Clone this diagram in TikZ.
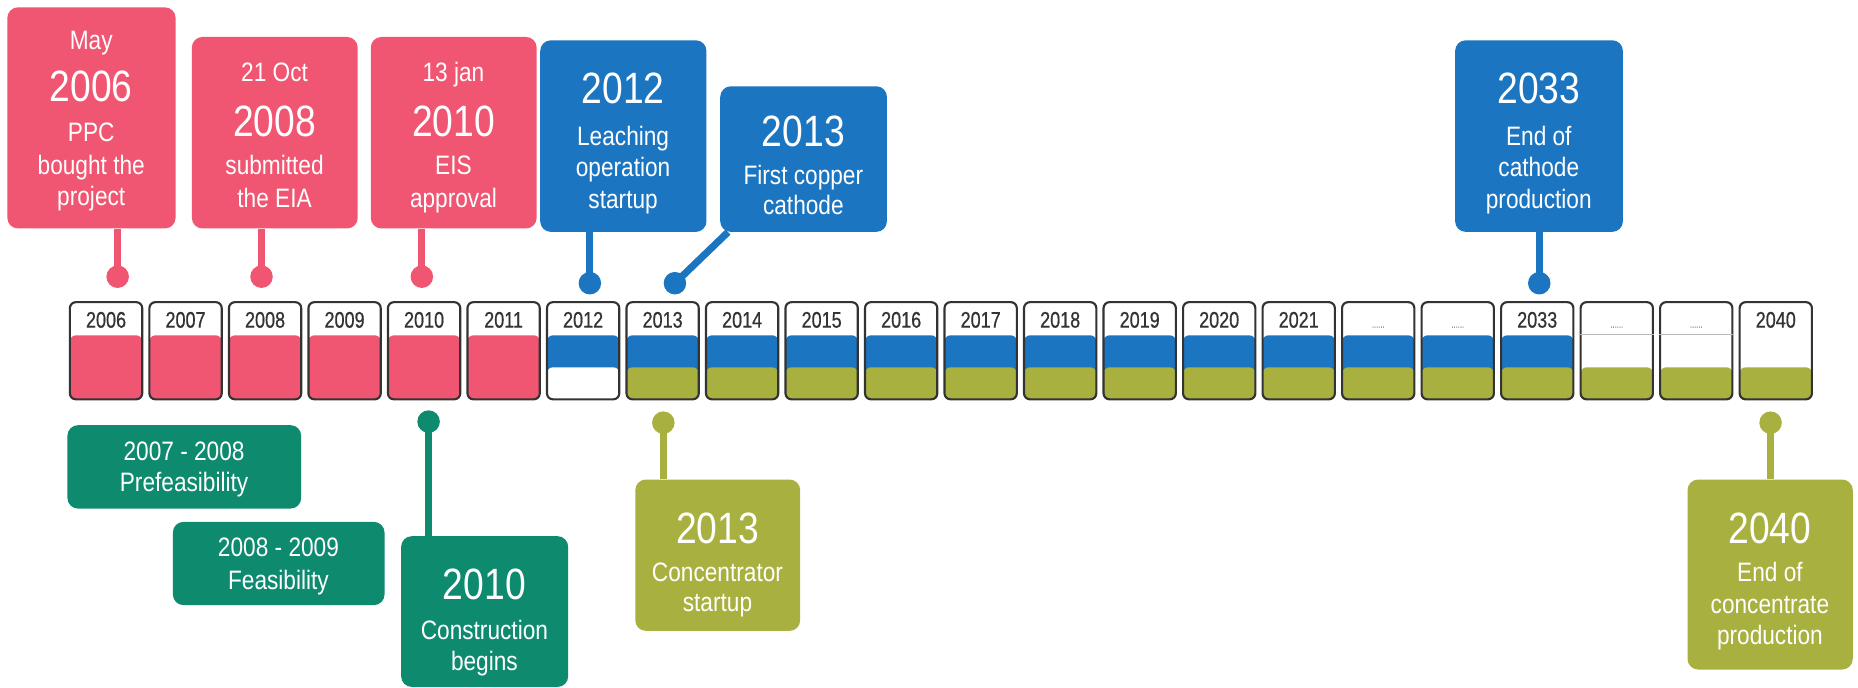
\documentclass[tikz,border=0pt]{standalone}
\usepackage{fontspec}
\setmainfont{Liberation Sans}
\newfontfamily\nar[FakeStretch=0.85]{Liberation Sans}
\newfontfamily\yrf[FakeStretch=0.8,FakeBold=0.6]{Liberation Sans}
\usetikzlibrary{calc}
\definecolor{cpink}{HTML}{F05572}
\definecolor{cblue}{HTML}{1C75C1}
\definecolor{cteal}{HTML}{0E8A6F}
\definecolor{colive}{HTML}{A8B040}
\definecolor{cframe}{HTML}{333333}
\tikzset{
  evbox/.style={rounded corners=9pt, inner sep=0pt, fill=#1, anchor=north west},
  dot/.style={circle, fill=#1, minimum size=19pt, inner sep=0pt},
  stem/.style={draw=#1, line width=6pt},
  big/.style={font=\nar\fontsize{37}{37}\selectfont, text=white, anchor=base, inner sep=0pt},
  sml/.style={font=\nar\fontsize{22.5}{27}\selectfont, text=white, anchor=base, inner sep=0pt},
  yearbox/.style={draw=cframe, line width=1.8pt, rounded corners=5pt, minimum width=61pt, minimum height=82pt, inner sep=0pt},
  yeartext/.style={font=\yrf\fontsize{19}{19}\selectfont, text=black!80, anchor=base, inner sep=0pt},
}
\newcommand\dd{\textcolor{gray}{\fontsize{8}{8}\selectfont......}}
\begin{document}
\begin{tikzpicture}[x=1pt,y=-1pt]
\fill[white] (0,0) rectangle (1568,580);
\useasboundingbox (0,0) rectangle (1568,580);

% ---------- year boxes ----------
\foreach \i/\lab/\mc/\bc in {0/2006/cpink/cpink,1/2007/cpink/cpink,2/2008/cpink/cpink,3/2009/cpink/cpink,4/2010/cpink/cpink,5/2011/cpink/cpink,6/2012/cblue/white,7/2013/cblue/colive,8/2014/cblue/colive,9/2015/cblue/colive,10/2016/cblue/colive,11/2017/cblue/colive,12/2018/cblue/colive,13/2019/cblue/colive,14/2020/cblue/colive,15/2021/cblue/colive,16/\dd/cblue/colive,17/\dd/cblue/colive,18/2033/cblue/colive,19/\dd/white/colive,20/\dd/white/colive,21/2040/white/colive}{
  \node[yearbox, path picture={
      \fill[\mc] ([yshift=-28pt]path picture bounding box.north west) rectangle (path picture bounding box.south east);
      \fill[\bc] ([yshift=27pt]path picture bounding box.south west) rectangle (path picture bounding box.south east);
    }] (y\i) at ({89.5+67.1*\i},296) {};
  \node[yeartext] (l\i) at ({89.5+67.1*\i},276.5) {\lab};
}
\foreach \i in {19,20}{
  \draw[gray!55, line width=0.6pt] ([yshift=-28pt]y\i.north west) -- ([yshift=-28pt]y\i.north east);
}

% ---------- top event boxes ----------
\node[evbox=cpink, minimum width=142pt, minimum height=186.6pt] (b1) at (6,6) {};
\node[evbox=cpink, minimum width=140pt, minimum height=161.6pt] (b2) at (161.7,31) {};
\node[evbox=cpink, minimum width=140pt, minimum height=161.6pt] (b3) at (312.7,31) {};
\node[evbox=cblue, minimum width=140.3pt, minimum height=161.7pt] (b4) at (455.7,33.8) {};
\node[evbox=cblue, minimum width=140.7pt, minimum height=122.9pt] (b5) at (607.6,72.6) {};
\node[evbox=cblue, minimum width=141.6pt, minimum height=161.7pt] (b6) at (1227.8,33.8) {};

% ---------- bottom event boxes ----------
\node[evbox=cteal, minimum width=197.3pt, minimum height=70.4pt] (t1) at (56.7,358.6) {};
\node[evbox=cteal, minimum width=178.6pt, minimum height=70.3pt] (t2) at (145.7,440.2) {};
\node[evbox=cteal, minimum width=141pt, minimum height=127.2pt] (t3) at (338.3,452.3) {};
\node[evbox=colive, minimum width=139.2pt, minimum height=127.7pt] (o1) at (535.9,404.5) {};
\node[evbox=colive, minimum width=139.5pt, minimum height=160.3pt] (o2) at (1423.9,404.5) {};

% ---------- dots ----------
\node[dot=cpink] (d1) at (99.3,233.5) {};
\node[dot=cpink] (d2) at (220.7,233.5) {};
\node[dot=cpink] (d3) at (356,233.5) {};
\node[dot=cblue] (d4) at (497.8,239) {};
\node[dot=cblue] (d5) at (569.6,239) {};
\node[dot=cblue] (d6) at (1299,239) {};
\node[dot=cteal] (d7) at (361.7,355.8) {};
\node[dot=colive] (d8) at (559.8,356.7) {};
\node[dot=colive] (d9) at (1494.2,356.7) {};

% ---------- stems ----------
\draw[stem=cpink] (d1.center) -- (d1.center |- b1.south);
\draw[stem=cpink] (d2.center) -- (d2.center |- b2.south);
\draw[stem=cpink] (d3.center) -- (d3.center |- b3.south);
\draw[stem=cblue] (d4.center) -- (d4.center |- b4.south);
\draw[stem=cblue] (d5.center) -- (b5);
\draw[stem=cblue] (d6.center) -- (d6.center |- b6.south);
\draw[stem=cteal] (d7.center) -- (d7.center |- t3.north);
\draw[stem=colive] (d8.center) -- (d8.center |- o1.north);
\draw[stem=colive] (d9.center) -- (d9.center |- o2.north);

% ---------- texts ----------
\node[sml] (b1a) at (77,41.5) {May};
\node[big] (b1b) at (77,85.7) {2006};
\node[sml] (b1c) at (77,119.5) {PPC};
\node[sml] (b1d) at (77,147.6) {bought the};
\node[sml] (b1e) at (77,173.5) {project};

\node[sml] (b2a) at (231.7,68.9) {21 Oct};
\node[big] (b2b) at (231.7,115.3) {2008};
\node[sml] (b2c) at (231.7,147.6) {submitted};
\node[sml] (b2d) at (231.7,175.3) {the EIA};

\node[sml] (b3a) at (382.7,68.9) {13 jan};
\node[big] (b3b) at (382.7,115.3) {2010};
\node[sml] (b3c) at (382.7,147.6) {EIS};
\node[sml] (b3d) at (382.7,175.3) {approval};

\node[big] (b4a) at (525.85,87.2) {2012};
\node[sml] (b4b) at (525.85,122.4) {Leaching};
\node[sml] (b4c) at (525.85,149) {operation};
\node[sml] (b4d) at (525.85,175.8) {startup};

\node[big] (b5a) at (677.95,123.8) {2013};
\node[sml] (b5b) at (677.95,156) {First copper};
\node[sml] (b5c) at (677.95,181.4) {cathode};

\node[big] (b6a) at (1298.6,87.2) {2033};
\node[sml] (b6b) at (1298.6,122.4) {End of};
\node[sml] (b6c) at (1298.6,149) {cathode};
\node[sml] (b6d) at (1298.6,176) {production};

\node[sml] (t1a) at (155.35,388.2) {2007 - 2008};
\node[sml] (t1b) at (155.35,414.9) {Prefeasibility};
\node[sml] (t2a) at (235,469.8) {2008 - 2009};
\node[sml] (t2b) at (235,497.9) {Feasibility};
\node[big] (t3a) at (408.8,506.3) {2010};
\node[sml] (t3b) at (408.8,540) {Construction};
\node[sml] (t3c) at (408.8,566) {begins};

\node[big] (o1a) at (605.5,458.5) {2013};
\node[sml] (o1b) at (605.5,490.9) {Concentrator};
\node[sml] (o1c) at (605.5,516.2) {startup};

\node[big] (o2a) at (1493.65,458.5) {2040};
\node[sml] (o2b) at (1493.65,491) {End of};
\node[sml] (o2c) at (1493.65,517.5) {concentrate};
\node[sml] (o2d) at (1493.65,544) {production};
\end{tikzpicture}
\end{document}
